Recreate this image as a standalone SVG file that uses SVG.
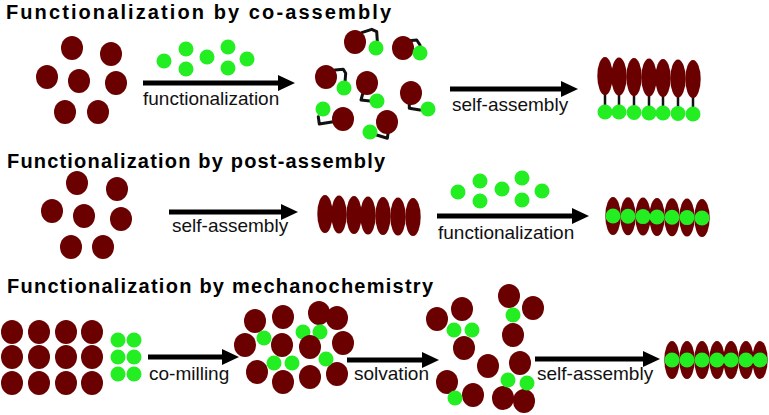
<svg xmlns="http://www.w3.org/2000/svg" width="769" height="415" viewBox="0 0 769 415">
<defs>
<style>
.r{fill:#6b0000}
.g{fill:#22ee22}
.t{font-family:"Liberation Sans",Arial,sans-serif;font-weight:bold;font-size:20px;fill:#000}
.l{font-family:"Liberation Sans",Arial,sans-serif;font-size:19px;fill:#111}
.a{stroke:#000;stroke-width:5;fill:none;marker-end:url(#ah)}
.k{stroke:#111;stroke-width:3;fill:none;stroke-linejoin:round;stroke-linecap:round}
.s{stroke:#111;stroke-width:2.5}
</style>
<marker id="ah" markerUnits="userSpaceOnUse" markerWidth="17" markerHeight="16" refX="2" refY="8" orient="auto">
<path d="M0,0 L17,8 L0,16 z" fill="#000"/>
</marker>
<ellipse id="rc" class="r" rx="11" ry="12"/>
<circle id="gc" class="g" r="7.5"/>
<ellipse id="re" class="r" rx="7.7" ry="19"/>
</defs>
<rect width="769" height="415" fill="#fff"/>

<g id="titles">
<text class="t" x="6" y="18.5" textLength="385" lengthAdjust="spacing">Functionalization by co-assembly</text>
<text class="t" x="7" y="168" textLength="378" lengthAdjust="spacing">Functionalization by post-assembly</text>
<text class="t" x="7" y="293" textLength="426" lengthAdjust="spacing">Functionalization by mechanochemistry</text>
</g>

<!-- Row 1 -->
<g id="r1-particles">
<use href="#rc" x="72" y="48"/><use href="#rc" x="111" y="54"/>
<use href="#rc" x="47" y="77"/><use href="#rc" x="79" y="81"/><use href="#rc" x="116" y="83"/>
<use href="#rc" x="65" y="112"/><use href="#rc" x="98" y="112"/>
</g>
<g id="r1-ligands">
<use href="#gc" x="164" y="61"/><use href="#gc" x="186" y="49"/><use href="#gc" x="186" y="69"/>
<use href="#gc" x="207" y="57"/><use href="#gc" x="228" y="47"/><use href="#gc" x="228" y="68"/>
<use href="#gc" x="247" y="59"/>
</g>
<g id="r1-conjugates">
<path class="k" d="M361.7,32.7 L371.7,29.3 L376.7,31.7 L377.3,41"/>
<path class="k" d="M409.3,40.7 L416.7,40 L420,45 L420,49"/>
<path class="k" d="M335,70 L343.3,69.3 L345.7,73.3 L345,82"/>
<path class="k" d="M363.3,91.7 L361,100 L370,101"/>
<path class="k" d="M409.3,101.7 L409.3,108.3 L420,110"/>
<path class="k" d="M318.3,116.7 L319.3,124 L333.3,121.7"/>
<path class="k" d="M376.7,135 L387.3,138.3 L388.3,131.7"/>
<use href="#rc" x="355" y="42"/><use href="#gc" x="376" y="48"/>
<use href="#rc" x="403" y="48"/><use href="#gc" x="420" y="53"/>
<use href="#rc" x="326" y="77"/><use href="#gc" x="344" y="88"/>
<use href="#rc" x="367" y="83"/><use href="#gc" x="377" y="101"/>
<use href="#rc" x="411" y="93"/><use href="#gc" x="428" y="109"/>
<use href="#gc" x="323" y="109"/><use href="#rc" x="343" y="119"/>
<use href="#gc" x="370" y="132"/><use href="#rc" x="387" y="122"/>
</g>
<g id="r1-assembly">
<line class="s" x1="605" y1="90" x2="605" y2="112"/><line class="s" x1="619" y1="90" x2="619" y2="112"/>
<line class="s" x1="634" y1="91" x2="634" y2="112"/><line class="s" x1="649" y1="91" x2="649" y2="113"/>
<line class="s" x1="663" y1="92" x2="663" y2="113"/><line class="s" x1="678" y1="92" x2="678" y2="113"/>
<line class="s" x1="693" y1="93" x2="693" y2="114"/>
<use href="#re" x="605" y="76"/><use href="#re" x="619" y="76.5"/><use href="#re" x="634" y="77"/>
<use href="#re" x="649" y="77.5"/><use href="#re" x="663" y="78"/><use href="#re" x="678" y="78.5"/>
<use href="#re" x="693" y="79"/>
<use href="#gc" x="605" y="112"/><use href="#gc" x="619" y="112"/><use href="#gc" x="634" y="112.5"/>
<use href="#gc" x="649" y="113"/><use href="#gc" x="663" y="113"/><use href="#gc" x="678" y="113.5"/>
<use href="#gc" x="693" y="114"/>
</g>

<!-- Row 2 -->
<g id="r2-particles">
<use href="#rc" x="77" y="183"/><use href="#rc" x="117" y="189"/>
<use href="#rc" x="52" y="211"/><use href="#rc" x="84" y="216"/><use href="#rc" x="121" y="219"/>
<use href="#rc" x="71" y="247"/><use href="#rc" x="103" y="247"/>
</g>
<g id="r2-assembly">
<use href="#re" x="325" y="214"/><use href="#re" x="339" y="214.5"/><use href="#re" x="354" y="215"/>
<use href="#re" x="368" y="215.5"/><use href="#re" x="383" y="216"/><use href="#re" x="398" y="216.5"/>
<use href="#re" x="413" y="217"/>
</g>
<g id="r2-ligands">
<use href="#gc" x="458" y="192"/><use href="#gc" x="480" y="181"/><use href="#gc" x="480" y="201"/>
<use href="#gc" x="502" y="189"/><use href="#gc" x="522" y="178"/><use href="#gc" x="522" y="200"/>
<use href="#gc" x="542" y="191"/>
</g>
<g id="r2-functionalized">
<use href="#re" x="613" y="216"/><use href="#re" x="628" y="216.3"/><use href="#re" x="643" y="216.6"/>
<use href="#re" x="657" y="217"/><use href="#re" x="672" y="217.3"/><use href="#re" x="687" y="217.6"/>
<use href="#re" x="702" y="218"/>
<use href="#gc" x="613" y="216"/><use href="#gc" x="628" y="216.3"/><use href="#gc" x="643" y="216.6"/>
<use href="#gc" x="657" y="217"/><use href="#gc" x="672" y="217.3"/><use href="#gc" x="687" y="217.6"/>
<use href="#gc" x="702" y="218"/>
</g>

<!-- Row 3 -->
<g id="r3-particles">
<use href="#rc" x="12" y="332"/><use href="#rc" x="39" y="332"/><use href="#rc" x="66" y="332"/><use href="#rc" x="92" y="332"/>
<use href="#rc" x="12" y="357"/><use href="#rc" x="39" y="357"/><use href="#rc" x="66" y="357"/><use href="#rc" x="92" y="357"/>
<use href="#rc" x="12" y="383"/><use href="#rc" x="39" y="383"/><use href="#rc" x="66" y="383"/><use href="#rc" x="92" y="383"/>
</g>
<g id="r3-ligands">
<use href="#gc" x="118" y="340"/><use href="#gc" x="134" y="340"/>
<use href="#gc" x="118" y="357"/><use href="#gc" x="134" y="357"/>
<use href="#gc" x="118" y="374"/><use href="#gc" x="134" y="374"/>
</g>
<g id="r3-milled">
<use href="#rc" x="255" y="321"/><use href="#rc" x="283" y="317"/><use href="#rc" x="319" y="313"/><use href="#rc" x="337" y="318"/>
<use href="#rc" x="245" y="345"/><use href="#rc" x="282" y="345"/><use href="#rc" x="343" y="343"/>
<use href="#gc" x="264" y="338"/><use href="#gc" x="303" y="332"/><use href="#gc" x="320" y="332"/>
<use href="#rc" x="310" y="347"/>
<use href="#rc" x="257" y="372"/><use href="#rc" x="283" y="382"/><use href="#rc" x="310" y="377"/><use href="#rc" x="337" y="374"/>
<use href="#gc" x="274" y="363"/><use href="#gc" x="292" y="363"/><use href="#gc" x="326" y="359"/>
</g>
<g id="r3-solvated">
<use href="#rc" x="437" y="319"/><use href="#rc" x="462" y="309"/><use href="#rc" x="509" y="296"/><use href="#rc" x="533" y="308"/>
<use href="#rc" x="464" y="348"/><use href="#rc" x="513" y="335"/><use href="#rc" x="488" y="366"/><use href="#rc" x="520" y="363"/>
<use href="#rc" x="447" y="382"/><use href="#rc" x="473" y="395"/><use href="#rc" x="503" y="398"/><use href="#rc" x="524" y="401"/>
<use href="#gc" x="454" y="330"/><use href="#gc" x="472" y="330"/><use href="#gc" x="513" y="315"/>
<use href="#gc" x="508" y="380"/><use href="#gc" x="527" y="383"/><use href="#gc" x="455" y="398"/>
</g>
<g id="r3-assembly">
<use href="#re" x="672" y="360"/><use href="#re" x="687" y="360"/><use href="#re" x="702" y="360"/>
<use href="#re" x="717" y="360"/><use href="#re" x="731" y="360"/><use href="#re" x="746" y="360"/>
<use href="#re" x="760" y="360"/>
<use href="#gc" x="672" y="360"/><use href="#gc" x="687" y="360"/><use href="#gc" x="702" y="360"/>
<use href="#gc" x="717" y="360"/><use href="#gc" x="731" y="360"/><use href="#gc" x="746" y="360"/>
<use href="#gc" x="760" y="360"/>
</g>

<g id="connectors">
<line class="a" x1="143" y1="83" x2="280" y2="83"/>
<line class="a" x1="450" y1="89" x2="563" y2="89"/>
<line class="a" x1="169" y1="212" x2="283" y2="212"/>
<line class="a" x1="437" y1="216" x2="574" y2="216"/>
<line class="a" x1="148" y1="357" x2="224" y2="357"/>
<line class="a" x1="347" y1="360" x2="424" y2="360"/>
<line class="a" x1="535" y1="359" x2="645" y2="359"/>
<text class="l" x="143" y="105">functionalization</text>
<text class="l" x="452" y="111">self-assembly</text>
<text class="l" x="172" y="232">self-assembly</text>
<text class="l" x="438" y="239">functionalization</text>
<text class="l" x="149" y="380">co-milling</text>
<text class="l" x="354" y="380">solvation</text>
<text class="l" x="537" y="380">self-assembly</text>
</g>
</svg>
